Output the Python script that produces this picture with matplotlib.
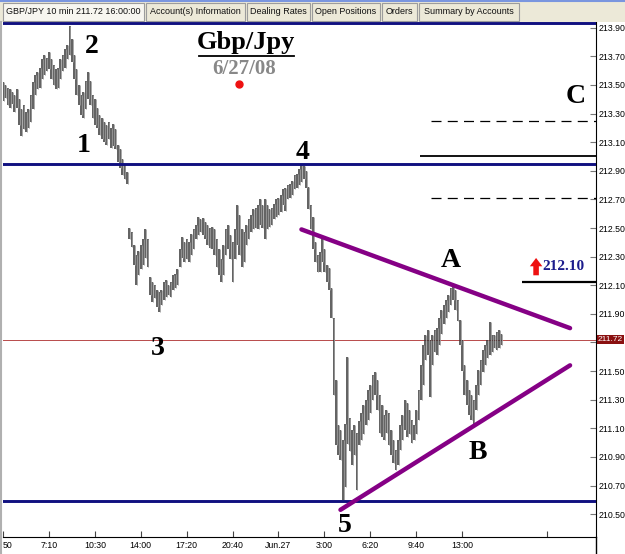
import matplotlib
matplotlib.use("Agg")
import matplotlib.pyplot as plt
import matplotlib.transforms as mtransforms
from matplotlib.patches import Rectangle
from matplotlib.lines import Line2D

# 10 minute bars, GBP/JPY (index 0 = 3:50 Jun 26)
highs = [213.52, 213.50, 213.48, 213.47, 213.45, 213.43, 213.47, 213.40, 213.33, 213.36,
         213.31, 213.33, 213.43, 213.52, 213.57, 213.59, 213.62, 213.68, 213.71, 213.69,
         213.73, 213.68, 213.64, 213.61, 213.62, 213.68, 213.71, 213.75, 213.78, 213.91,
         213.82, 213.71, 213.61, 213.50, 213.43, 213.45, 213.53, 213.59, 213.53, 213.43,
         213.40, 213.34, 213.29, 213.27, 213.24, 213.22, 213.24, 213.20, 213.23, 213.19,
         213.08, 213.05, 212.98, 212.94, 212.89,
         212.50, 212.47, 212.38, 212.31, 212.34, 212.38, 212.42, 212.49, 212.42, 212.16,
         212.12, 212.10, 212.07, 212.05, 212.07, 212.12, 212.14, 212.10, 212.12, 212.17,
         212.18, 212.21, 212.35, 212.44, 212.40, 212.42, 212.40, 212.46, 212.49, 212.52,
         212.58, 212.56, 212.57, 212.54, 212.52, 212.50, 212.51, 212.49, 212.42, 212.35,
         212.28, 212.38, 212.49, 212.52, 212.45, 212.40, 212.49, 212.66, 212.59, 212.49,
         212.47, 212.52, 212.56, 212.59, 212.63, 212.64, 212.66, 212.70, 212.66, 212.70,
         212.66, 212.63, 212.64, 212.67, 212.70, 212.71, 212.73, 212.77, 212.78, 212.80,
         212.81, 212.83, 212.87, 212.88, 212.91, 212.95, 212.93, 212.90, 212.79, 212.66,
         212.58, 212.40, 212.31, 212.33, 212.42, 212.35, 212.24, 212.22, 212.08, 211.87,
         211.44, 211.12, 211.09, 211.02, 211.13, 211.60, 211.17, 211.09, 211.12, 211.07,
         211.15, 211.21, 211.26, 211.30, 211.37, 211.40, 211.47, 211.49, 211.44, 211.33,
         211.26, 211.19, 211.23, 211.21, 211.09, 211.02, 210.95, 211.02, 211.12, 211.19,
         211.30, 211.28, 211.23, 211.16, 211.12, 211.23, 211.37, 211.54, 211.68, 211.75,
         211.79, 211.72, 211.75, 211.79, 211.80, 211.87, 211.93, 211.96, 212.00, 212.03,
         212.08, 212.10, 212.07, 212.00, 211.86, 211.72, 211.54, 211.44, 211.37, 211.33,
         211.30, 211.40, 211.51, 211.58, 211.65, 211.68, 211.72, 211.84, 211.75, 211.75,
         211.77, 211.79, 211.76]
lows = [213.39, 213.41, 213.36, 213.34, 213.37, 213.31, 213.34, 213.22, 213.14, 213.19,
        213.17, 213.20, 213.24, 213.33, 213.43, 213.47, 213.48, 213.54, 213.57, 213.60,
        213.61, 213.54, 213.50, 213.47, 213.48, 213.54, 213.60, 213.62, 213.68, 213.71,
        213.66, 213.54, 213.43, 213.36, 213.29, 213.27, 213.33, 213.40, 213.36, 213.27,
        213.22, 213.20, 213.15, 213.12, 213.10, 213.08, 213.12, 213.06, 213.07, 213.05,
        212.96, 212.92, 212.87, 212.84, 212.81,
        212.42, 212.37, 212.24, 212.10, 212.17, 212.21, 212.24, 212.29, 212.23, 212.03,
        211.98, 212.01, 211.95, 211.91, 211.96, 212.00, 212.02, 212.03, 212.02, 212.07,
        212.08, 212.10, 212.23, 212.29, 212.26, 212.28, 212.26, 212.31, 212.35, 212.42,
        212.45, 212.47, 212.45, 212.42, 212.38, 212.36, 212.35, 212.31, 212.23, 212.17,
        212.12, 212.17, 212.31, 212.35, 212.28, 212.12, 212.28, 212.38, 212.31, 212.23,
        212.26, 212.38, 212.42, 212.47, 212.49, 212.50, 212.49, 212.52, 212.50, 212.42,
        212.49, 212.51, 212.52, 212.56, 212.58, 212.59, 212.61, 212.66, 212.62, 212.70,
        212.71, 212.73, 212.77, 212.78, 212.80, 212.82, 212.84, 212.78, 212.63, 212.49,
        212.35, 212.26, 212.19, 212.19, 212.26, 212.19, 212.12, 212.07, 211.87, 211.33,
        210.98, 210.91, 210.88, 210.60, 210.69, 210.99, 210.94, 210.84, 210.91, 210.67,
        210.98, 211.02, 211.06, 211.12, 211.16, 211.21, 211.30, 211.33, 211.23, 211.07,
        211.04, 211.02, 211.07, 210.98, 210.91, 210.86, 210.81, 210.84, 210.95, 211.02,
        211.09, 211.04, 211.06, 211.00, 211.02, 211.06, 211.16, 211.30, 211.40, 211.58,
        211.61, 211.32, 211.54, 211.63, 211.61, 211.68, 211.76, 211.83, 211.87, 211.91,
        211.96, 212.00, 211.93, 211.85, 211.68, 211.50, 211.33, 211.26, 211.19, 211.16,
        211.12, 211.23, 211.33, 211.40, 211.49, 211.54, 211.59, 211.61, 211.63, 211.66,
        211.65, 211.66, 211.68]

tick_pos = [0, 20, 40, 60, 80, 100, 120, 140, 160, 180, 200, 237]
tick_labels = ["50", "7:10", "10:30", "14:00", "17:20", "20:40", "Jun.27",
               "3:00", "6:20", "9:40", "13:00", ""]
price_ticks = [210.50, 210.70, 210.90, 211.10, 211.30, 211.50, 211.70, 211.90,
               212.10, 212.30, 212.50, 212.70, 212.90, 213.10, 213.30, 213.50,
               213.70, 213.90]

blue_levels = [213.93, 212.95, 210.59]
last_price = 211.72
upper_trend = ([130, 247], [212.49, 211.80])
lower_trend = ([147, 247], [210.53, 211.54])
tabs = ["GBP/JPY 10 min 211.72 16:00:00", "Account(s) Information", "Dealing Rates",
        "Open Positions", "Orders", "Summary by Accounts"]
tab_edges = [3, 146, 247, 312, 382, 419, 521]

W, H = 625, 554
fig = plt.figure(figsize=(W / 100, H / 100), dpi=100)
fig.patch.set_facecolor("white")

sans = "Liberation Sans"
serif = "Liberation Serif"

ax = fig.add_axes([3 / W, 17 / H, 593 / W, 515 / H])
ax.set_xlim(0, 258.3)
ax.set_ylim(210.34, 213.94)
ax.set_facecolor("white")

# price bars
idx = list(range(len(highs)))
ax.vlines(idx, lows, highs, color="#363636", lw=1.1, zorder=3)
ax.vlines([i + 0.35 for i in idx], lows, highs, color="#9a9a9a", lw=0.6, zorder=3)

# support / resistance levels
for lvl in blue_levels:
    ax.axhline(lvl, color="#101080", lw=2.1, zorder=4)
ax.axhline(last_price, color="#b84a4a", lw=0.7, zorder=2)
ax.hlines(213.00, 181.6, 258.3, color="black", lw=1.3, zorder=4)
ax.hlines(212.12, 226, 258.3, color="black", lw=1.6, zorder=4)
ax.hlines([213.245, 212.71], 186.4, 258.3, color="black", lw=0.9,
          linestyles=(0, (8, 5)), zorder=4)

# triangle
ax.plot(*upper_trend, color="#850085", lw=3.2, solid_capstyle="round", zorder=5)
ax.plot(*lower_trend, color="#850085", lw=3.2, solid_capstyle="round", zorder=5)

# wave labels
big = dict(fontfamily=serif, fontweight="bold", fontsize=20, color="black",
           ha="center", va="center", zorder=6)
ax.text(38.7, 213.77, "2", **big)
ax.text(35.3, 213.08, "1", **big)
ax.text(130.7, 213.03, "4", **big)
ax.text(67.5, 211.66, "3", **big)
ax.text(148.9, 210.42, "5", **big)
ax.text(195.1, 212.27, "A", **big)
ax.text(206.9, 210.93, "B", **big)
ax.text(249.5, 213.42, "C", **big)

ax.text(106.0, 213.80, "Gbp/Jpy", fontfamily=serif, fontweight="bold",
        fontsize=19, ha="center", va="center", zorder=6)
ax.plot([85.3, 126.8], [213.70, 213.70], color="black", lw=1.3, zorder=6)
ax.text(105.0, 213.61, "6/27/08", fontfamily=serif, fontweight="bold",
        fontsize=15, color="#888888", ha="center", va="center", zorder=6)
ax.plot([102.8], [213.51], "o", color="#ee1111", ms=5, zorder=6)

ax.annotate("", xy=(232.2, 212.31), xytext=(232.2, 212.15),
            arrowprops=dict(arrowstyle="simple,head_width=0.9,head_length=0.6,tail_width=0.4",
                            color="#ee1111", lw=0), zorder=6)
ax.text(235.0, 212.23, "212.10", fontfamily=serif, fontweight="bold",
        fontsize=11, color="#1c1c8c", ha="left", va="center", zorder=6)

# axes styling
for side in ["top", "left"]:
    ax.spines[side].set_visible(False)
ax.spines["right"].set_color("black")
ax.spines["bottom"].set_color("black")
ax.yaxis.tick_right()
ax.set_yticks(price_ticks)
# the 211.70 label sits under the last-price box
ax.set_yticklabels(["" if p == 211.70 else "%.2f" % p for p in price_ticks])
ax.tick_params(axis="y", direction="in", length=4, color="#777777", pad=2,
               labelsize=6.3, labelfontfamily=sans)
ax.set_xticks(tick_pos)
ax.set_xticklabels(tick_labels)
ax.tick_params(axis="x", direction="in", length=4, color="#444444", pad=3,
               labelsize=6.3, labelfontfamily=sans)
ax.get_xticklabels()[0].set_ha("left")

trans = mtransforms.blended_transform_factory(ax.transAxes, ax.transData)
ax.text(1.003, last_price, "211.72", transform=trans, fontsize=6.0, fontfamily=sans,
        color="white", va="center", ha="left", zorder=7,
        bbox=dict(boxstyle="square,pad=0.12", fc="#8a1010", ec="none"))

# right axis line runs to the bottom of the window
fig.add_artist(Line2D([596 / W, 596 / W], [0, 17 / H], color="black", lw=1.0))
fig.add_artist(Line2D([1 / W, 1 / W], [0, 1 - 22 / H], color="#b0b0b0", lw=1.5))


def px_rect(x, y, w, h, **kw):
    return Rectangle((x / W, 1 - (y + h) / H), w / W, h / H,
                     transform=fig.transFigure, **kw)


# tab strip
fig.add_artist(px_rect(0, 0, W, 22, fc="#ece9d8", ec="none"))
fig.add_artist(Line2D([0, 1], [1 - 0.5 / H, 1 - 0.5 / H], color="#7a96df", lw=1.5))
for k, name in enumerate(tabs):
    x0, x1 = tab_edges[k], tab_edges[k + 1] - 2
    fc = "#f7f6f0" if k == 0 else "#ece9d8"
    fig.add_artist(px_rect(x0, 3, x1 - x0, 18, fc=fc, ec="#9c9c9c", lw=0.8))
    fig.text((x0 + x1) / 2 / W, 1 - 12 / H, name, fontsize=6.5, fontfamily=sans,
             ha="center", va="center", color="#111111")

fig.savefig("out.png", dpi=100)
